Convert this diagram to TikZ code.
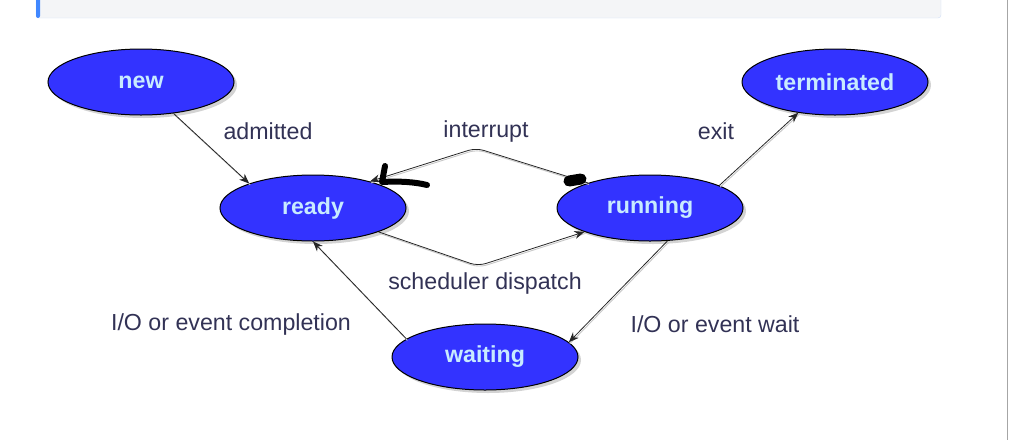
\documentclass[tikz,border=0pt]{standalone}
\usepackage{fontspec}
\setmainfont{Liberation Sans}
\usetikzlibrary{shapes.geometric,shadows,arrows.meta}
\definecolor{stateblue}{RGB}{51,51,255}
\definecolor{statetext}{RGB}{200,235,255}
\definecolor{labeltext}{RGB}{50,50,85}
\definecolor{panelgray}{RGB}{244,245,247}
\definecolor{panelline}{RGB}{210,225,248}
\definecolor{panelbar}{RGB}{64,135,255}
\tikzset{
  state/.style={ellipse, draw=black, line width=1pt, fill=stateblue,
    minimum width=186pt, minimum height=66pt, inner sep=0pt,
    text=statetext, font=\fontsize{23.2}{26}\selectfont\bfseries,
    drop shadow={shadow xshift=3pt, shadow yshift=-3pt, opacity=0.35}},
  trans/.style={draw=black!85, line width=0.8pt, -{Stealth[length=10pt,width=8pt]},
    preaction={draw=black!22, line width=0.9pt, arrows=-,
      transform canvas={shift={(1pt,-1.5pt)}}}},
  translabel/.style={text=labeltext, font=\fontsize{23.2}{26}\selectfont}
}
\begin{document}
\begin{tikzpicture}[x=1pt, y=-1pt]
  \useasboundingbox (0,0) rectangle (1009,440);
  \draw[draw=panelline, fill=panelgray, rounded corners=3pt] (36,-8) rectangle (941,18);
  \fill[panelbar, rounded corners=2pt] (36,-8) rectangle (40,18);
  \draw[black!35, line width=1.5pt] (1007.5,0) -- (1007.5,440);

  \node[state] (new) at (141,82) {new};
  \node[state] (terminated) at (835,82) {terminated};
  \node[state] (ready) at (313,208) {ready};
  \node[state] (running) at (650,208) {running};
  \node[state] (waiting) at (485,357) {waiting};

  \coordinate (interruptTop) at (476,148);
  \coordinate (dispatchLow) at (478,266);

  \draw[trans] (new.-44) -- (ready.159);
  \draw[trans, rounded corners=8pt] (running.158) -- (interruptTop) -- (ready.25);
  \draw[trans, rounded corners=8pt] (ready.-20) -- (dispatchLow) -- (running.200);
  \draw[trans] (running.18) -- (terminated.220);
  \draw[trans] (running.-62) -- (waiting.10);
  \draw[trans] (waiting.167) -- (ready.-90);

  \node[translabel] (admittedLbl) at (268,131) {admitted};
  \node[translabel] (interruptLbl) at (486,131) {interrupt};
  \node[translabel] (exitLbl) at (716,131) {exit};
  \node[translabel] (dispatchLbl) at (485,283) {scheduler dispatch};
  \node[translabel] (completionLbl) at (231,324) {I/O or event completion};
  \node[translabel] (waitLbl) at (715,324) {I/O or event wait};

  % hand-drawn marks
  \draw[line width=6pt, line cap=round, line join=round] (385,166) -- (382,182) .. controls (400,181) and (415,182) .. (427,185);
  \draw[line width=11pt, line cap=round] (569,181) -- (581,179);
\end{tikzpicture}
\end{document}
